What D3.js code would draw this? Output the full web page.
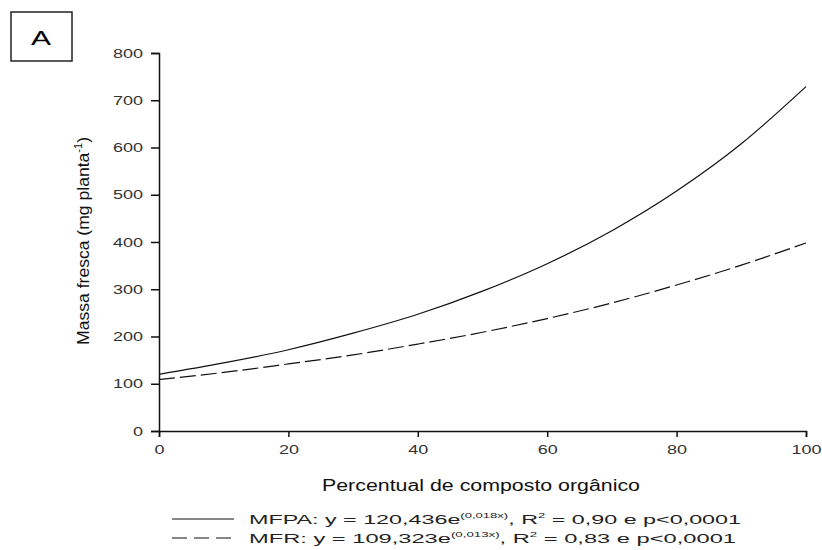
<!DOCTYPE html>
<html>
<head>
<meta charset="utf-8">
<script src="https://cdn.jsdelivr.net/npm/d3@7"></script>
<style>
  body { margin: 0; background: #fff; }
  text { font-family: "Liberation Sans", Arial, sans-serif; }
</style>
</head>
<body>
<div id="viz"></div>
<script>
const w = 822;
const h = 550;

// values
const xValues = [0, 10, 20, 30, 40, 50, 60, 70, 80, 90, 100];
const mfpa = [120, 144, 172, 207, 247, 296, 354, 424, 508, 608, 729];
const mfr = [109, 124, 142, 161, 184, 209, 238, 271, 309, 351, 398];
const xTicks = [0, 20, 40, 60, 80, 100];
const yTicks = [0, 100, 200, 300, 400, 500, 600, 700, 800];

const svg = d3.select('#viz').append('svg')
    .attr('width', w)
    .attr('height', h)

const x = d3.scaleLinear().domain([0, 100]).range([159, 806])
const y = d3.scaleLinear().domain([0, 800]).range([431, 53])

// panel letter box
svg.append('rect')
    .attr('x', 11).attr('y', 12)
    .attr('width', 61).attr('height', 49)
    .attr('fill', 'none')
    .attr('stroke', '#222')
    .attr('stroke-width', 1.5)
svg.append('text')
    .attr('x', 41).attr('y', 45)
    .attr('text-anchor', 'middle')
    .attr('font-size', 21)
    .attr('textLength', 20)
    .attr('lengthAdjust', 'spacingAndGlyphs')
    .text('A')

// axes
let xAxis = svg.append('g')
    .attr('transform', `translate(0,${y(0)})`)
    .call(d3.axisBottom(x).tickValues(xTicks).tickSize(6).tickPadding(4))
let yAxis = svg.append('g')
    .attr('transform', `translate(${x(0)},0)`)
    .call(d3.axisLeft(y).tickValues(yTicks).tickSize(8).tickPadding(8))

svg.selectAll('.domain').attr('stroke', '#111').attr('stroke-width', 1.5)
svg.selectAll('.tick line').attr('stroke', '#111').attr('stroke-width', 1.5)
// the picture's lettering is wide: stretch each label sideways
svg.selectAll('.tick text')
    .attr('font-family', '"Liberation Sans", Arial, sans-serif')
    .attr('font-size', 12.5)
    .attr('fill', '#333')
    .attr('textLength', d => String(d).length * 10)
    .attr('lengthAdjust', 'spacingAndGlyphs')
xAxis.selectAll('.tick text').attr('dy', '1em')

// axis titles
svg.append('text')
    .attr('transform', `translate(89,${241}) rotate(-90)`)
    .attr('text-anchor', 'middle')
    .attr('font-size', 16)
    .attr('fill', '#111')
    .attr('textLength', 208)
    .attr('lengthAdjust', 'spacingAndGlyphs')
    .html('Massa fresca (mg planta<tspan dy="-7" font-size="10">-1</tspan><tspan dy="7">)</tspan>')

svg.append('text')
    .attr('x', 481).attr('y', 491)
    .attr('text-anchor', 'middle')
    .attr('font-size', 16)
    .attr('fill', '#111')
    .attr('textLength', 318)
    .attr('lengthAdjust', 'spacingAndGlyphs')
    .text('Percentual de composto orgânico')

// curves
const line = d3.line()
    .x((d, i) => x(xValues[i]))
    .y(d => y(d))
    .curve(d3.curveMonotoneX)

svg.append('path')
    .attr('d', line(mfpa))
    .attr('fill', 'none')
    .attr('stroke', '#111')
    .attr('stroke-width', 1.2)

svg.append('path')
    .attr('d', line(mfr))
    .attr('fill', 'none')
    .attr('stroke', '#111')
    .attr('stroke-width', 1.2)
    .attr('stroke-dasharray', '16,5')

// legend
const legend = [
    { dash: null, len: 492, label: 'MFPA: y = 120,436e<tspan dy="-6" font-size="7">(0,018x)</tspan><tspan dy="6">, R</tspan><tspan dy="-6" font-size="7">2</tspan><tspan dy="6"> = 0,90 e p&lt;0,0001</tspan>' },
    { dash: '15,7', len: 487, label: 'MFR: y = 109,323e<tspan dy="-6" font-size="7">(0,013x)</tspan><tspan dy="6">, R</tspan><tspan dy="-6" font-size="7">2</tspan><tspan dy="6"> =  0,83 e p&lt;0,0001</tspan>' }
]
legend.forEach((d, i) => {
    let yy = 524 + i * 19
    svg.append('line')
        .attr('x1', 172).attr('x2', 234)
        .attr('y1', yy - 5).attr('y2', yy - 5)
        .attr('stroke', '#111')
        .attr('stroke-width', 1.2)
        .attr('stroke-dasharray', d.dash)
    svg.append('text')
        .attr('x', 249).attr('y', yy)
        .attr('font-size', 12.5)
        .attr('fill', '#222')
        .attr('textLength', d.len)
        .attr('lengthAdjust', 'spacingAndGlyphs')
        .html(d.label)
})
</script>
</body>
</html>
